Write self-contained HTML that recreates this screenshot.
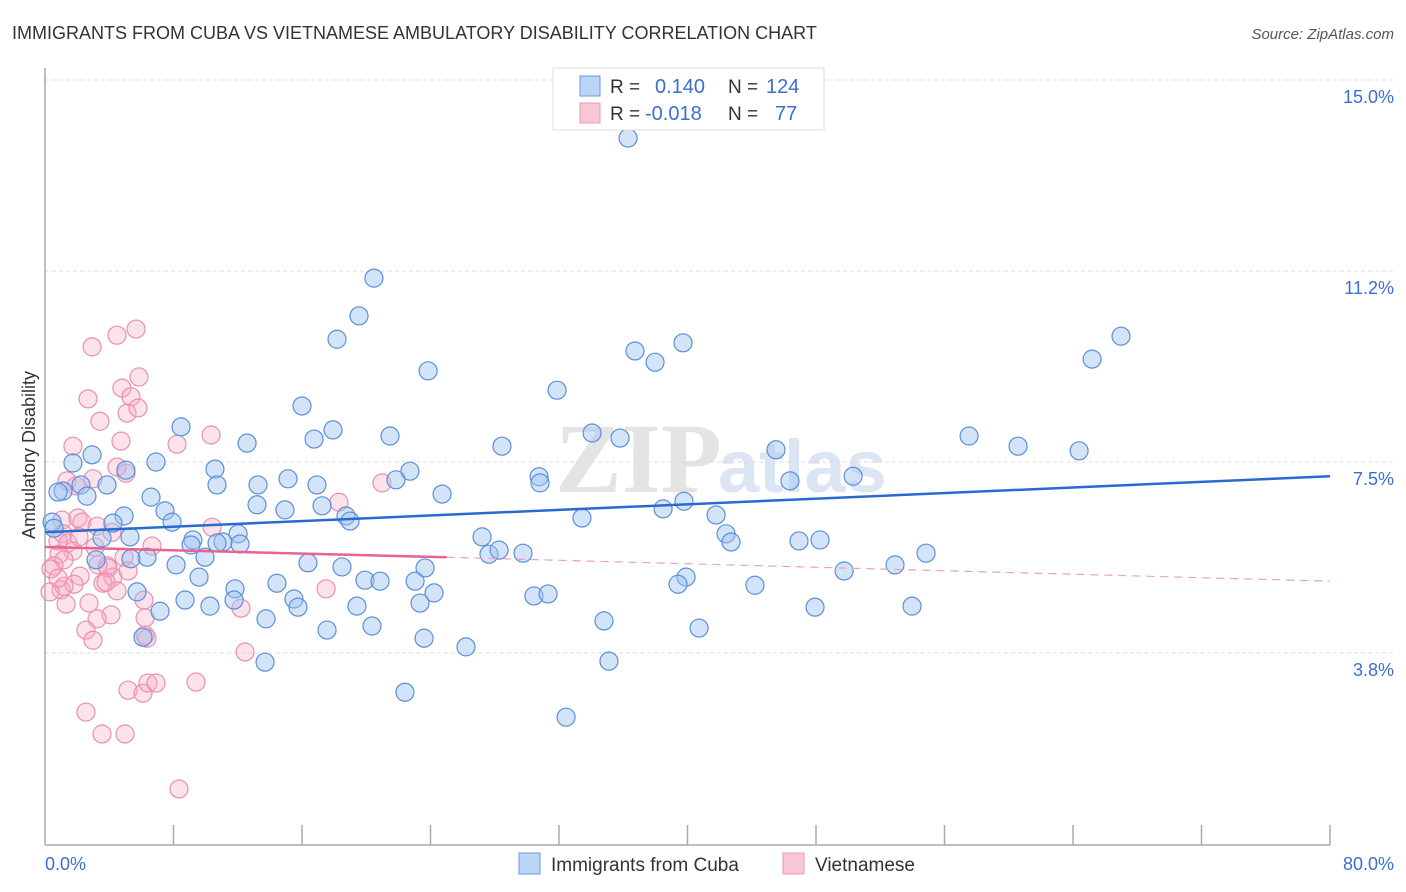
<!DOCTYPE html>
<html><head><meta charset="utf-8">
<style>
body{margin:0;background:#fff;font-family:"Liberation Sans",sans-serif;}
#wrap{position:relative;width:1406px;height:892px;overflow:hidden;}
</style></head>
<body>
<div id="wrap">
<svg id="svg" width="1406" height="892" xmlns="http://www.w3.org/2000/svg">
<text x="12" y="39" font-size="18" fill="#333">IMMIGRANTS FROM CUBA VS VIETNAMESE AMBULATORY DISABILITY CORRELATION CHART</text>
<text x="1394" y="39" font-size="15" fill="#555" font-style="italic" text-anchor="end">Source: ZipAtlas.com</text>
<text x="555" y="492" font-size="100" fill="#e4e4e4" font-family="Liberation Serif" font-weight="bold">ZIP</text>
<text x="718" y="492" font-size="74" fill="#dbe5f3" font-weight="bold">atlas</text>
<g id="grid"></g>
<g id="axes"></g>
<g id="pts"></g>
<g id="trend"></g>
<text transform="translate(35,455) rotate(-90)" font-size="18" fill="#333" text-anchor="middle">Ambulatory Disability</text>
<text x="45" y="870" font-size="18" fill="#3a6fd0">0.0%</text>
<text x="1394" y="870" font-size="18" fill="#3a6fd0" text-anchor="end">80.0%</text>
<g>
<rect x="553" y="68" width="271" height="62" fill="#fff" stroke="#ddd"/>
<rect x="580" y="76" width="20" height="20" fill="#bcd4f5" stroke="#6a9ae0"/>
<rect x="580" y="103" width="20" height="20" fill="#f9c6d6" stroke="#ec9ab4"/>
<text x="610" y="93" font-size="19" fill="#333">R =</text>
<text x="655" y="93" font-size="20" fill="#3a6fd0">0.140</text>
<text x="728" y="93" font-size="19" fill="#333">N =</text>
<text x="766" y="93" font-size="20" fill="#3a6fd0">124</text>
<text x="610" y="120" font-size="19" fill="#333">R =</text>
<text x="645" y="120" font-size="20" fill="#3a6fd0">-0.018</text>
<text x="728" y="120" font-size="19" fill="#333">N =</text>
<text x="775" y="120" font-size="20" fill="#3a6fd0">77</text>
</g>
<g>
<rect x="519" y="853" width="21" height="21" fill="#bcd4f5" stroke="#6a9ae0"/>
<text x="551" y="871" font-size="19" fill="#333">Immigrants from Cuba</text>
<rect x="783" y="853" width="21" height="21" fill="#f9c6d6" stroke="#ec9ab4"/>
<text x="815" y="871" font-size="19" fill="#333">Vietnamese</text>
</g>
</svg>
</div>
<script>
const yTicks=[15.0,11.25,7.5,3.75];
const yTickLabels=["15.0%","11.2%","7.5%","3.8%"];
const xTicks=[0,8,16,24,32,40,48,56,64,72,80];
const cubaX=[36.30,20.48,19.55,18.18,36.73,39.72,37.98,66.99,65.19,23.85,31.88,16.00,8.47,17.93,16.75,21.48,12.58,28.45,34.06,35.80,57.53,60.58,64.38,45.51,6.91,1.74,2.93,10.58,5.04,22.72,15.13,10.71,13.26,16.93,21.85,30.76,30.82,46.38,50.31,2.24,3.86,1.12,0.81,2.61,6.60,24.72,39.78,7.47,13.20,17.25,14.94,38.48,41.78,4.92,4.23,7.91,18.74,18.99,33.43,0.44,0.56,12.02,3.55,5.29,9.21,11.08,9.09,10.71,12.14,27.21,42.40,42.71,46.94,48.25,6.35,9.96,3.18,5.35,16.37,27.64,28.27,29.76,23.66,18.49,8.16,52.92,54.85,49.75,9.59,14.44,19.92,20.86,23.04,24.22,39.91,39.41,44.20,11.83,11.77,5.73,8.72,10.27,15.50,15.75,19.42,23.35,30.44,31.32,47.94,53.98,7.16,13.76,20.36,17.56,34.80,40.72,6.10,23.60,26.21,13.70,35.11,22.41,32.44];
const cubaY=[13.86,11.11,10.37,9.91,9.68,9.84,9.46,9.97,9.52,9.29,8.91,8.60,8.19,8.13,7.95,8.01,7.87,7.81,8.07,7.97,8.01,7.81,7.72,7.74,7.50,7.48,7.64,7.36,7.34,7.32,7.17,7.05,7.05,7.05,7.15,7.21,7.09,7.13,7.22,7.05,7.05,6.93,6.91,6.83,6.81,6.87,6.73,6.54,6.66,6.64,6.56,6.58,6.46,6.44,6.30,6.32,6.44,6.34,6.40,6.32,6.20,6.09,6.01,6.03,5.97,5.93,5.87,5.91,5.89,6.03,6.09,5.93,5.95,5.97,5.63,5.63,5.58,5.60,5.52,5.69,5.77,5.71,5.42,5.44,5.48,5.48,5.71,5.36,5.24,5.12,5.18,5.16,5.16,4.93,5.24,5.10,5.08,5.01,4.79,4.95,4.79,4.67,4.81,4.65,4.67,4.73,4.87,4.91,4.65,4.67,4.57,4.42,4.28,4.20,4.38,4.24,4.06,4.04,3.87,3.57,3.59,2.98,2.49];
const vietX=[5.67,4.48,2.93,5.85,4.79,2.68,5.35,5.11,5.79,3.42,10.34,1.74,4.73,8.22,4.48,5.04,1.37,2.99,18.30,20.98,1.93,1.06,2.05,2.30,10.40,3.24,1.12,0.81,1.43,2.12,4.17,6.66,1.74,3.11,0.87,1.18,3.86,4.92,5.17,0.56,0.37,2.18,3.30,4.23,3.92,3.61,1.00,1.81,1.18,4.48,6.16,0.31,2.74,1.31,3.80,17.50,12.20,4.11,6.23,3.24,2.55,2.99,6.23,6.35,12.45,5.17,6.10,6.41,6.91,9.40,2.55,3.55,4.98,8.34,0.81];
const vietY=[10.11,9.99,9.76,9.17,8.95,8.74,8.78,8.46,8.56,8.30,8.03,7.81,7.91,7.85,7.40,7.28,7.13,7.17,6.71,7.09,7.03,6.36,6.40,6.32,6.22,6.24,6.09,5.95,5.91,6.03,6.12,5.85,5.75,5.83,5.69,5.58,5.46,5.63,5.36,5.46,5.40,5.26,5.48,5.24,5.42,5.12,4.99,5.10,5.06,4.97,4.79,4.95,4.73,4.71,5.14,5.01,4.63,4.50,4.44,4.42,4.20,4.00,4.10,4.04,3.77,3.02,2.96,3.16,3.16,3.18,2.59,2.16,2.16,1.08,5.22];
const cubaTrendX=[0,80], cubaTrendY=[6.12,7.22];
const vietTrendX=[0,25,80], vietTrendY=[5.83,5.63,5.16];

const X0=45,X1=1330,Y0=844,YTOP=80;
function sx(v){return X0+(v/80)*(X1-X0);}
function sy(v){return Y0-(v/15)*(Y0-YTOP);}
const NS="http://www.w3.org/2000/svg";
function mk(tag,attrs,parent){const e=document.createElementNS(NS,tag);for(const k in attrs)e.setAttribute(k,attrs[k]);parent.appendChild(e);return e;}
const grid=document.getElementById('grid'),axes=document.getElementById('axes'),pts=document.getElementById('pts'),trend=document.getElementById('trend');
yTicks.forEach((t,i)=>{
  const l=mk('line',{x1:X0,x2:1394,y1:sy(t),y2:sy(t),stroke:'#ddd','stroke-dasharray':'4,3'},grid);
  
  
  const tx=mk('text',{x:1394,y:sy(t)+23,'font-size':18,fill:'#3a6fd0','text-anchor':'end'},grid);
  tx.textContent=yTickLabels[i];
  
  
});
const ya=mk('line',{x1:X0,x2:X0,y1:68,y2:Y0+1,stroke:'#aaa','stroke-width':1.5},axes);


const xa=mk('line',{x1:X0,x2:X1,y1:Y0+1,y2:Y0+1,stroke:'#aaa','stroke-width':1.5},axes);


xTicks.forEach(t=>{if(t===0)return;
  const l=mk('line',{x1:sx(t),x2:sx(t),y1:Y0-19,y2:Y0+1,stroke:'#aaa','stroke-width':1.5},axes);
  
  
});
vietX.forEach((v,i)=>{
  const c=mk('circle',{cx:sx(v),cy:sy(vietY[i]),r:9,fill:'rgba(246,172,198,0.35)',stroke:'#ea8fae','stroke-width':1.2},pts);
  
  
});
cubaX.forEach((v,i)=>{
  const c=mk('circle',{cx:sx(v),cy:sy(cubaY[i]),r:9,fill:'rgba(160,196,240,0.45)',stroke:'#5b8fd9','stroke-width':1.2},pts);
  
  
});
const bt=mk('line',{x1:sx(cubaTrendX[0]),y1:sy(cubaTrendY[0]),x2:sx(cubaTrendX[1]),y2:sy(cubaTrendY[1]),stroke:'#2a6ad0','stroke-width':2.5},trend);


const pt1=mk('line',{x1:sx(vietTrendX[0]),y1:sy(vietTrendY[0]),x2:sx(vietTrendX[1]),y2:sy(vietTrendY[1]),stroke:'#e8648f','stroke-width':2.5},trend);


const pt2=mk('line',{x1:sx(vietTrendX[1]),y1:sy(vietTrendY[1]),x2:sx(vietTrendX[2]),y2:sy(vietTrendY[2]),stroke:'#eaa0b8','stroke-width':1.2,'stroke-dasharray':'8,6'},trend);


</script>
</body></html>
